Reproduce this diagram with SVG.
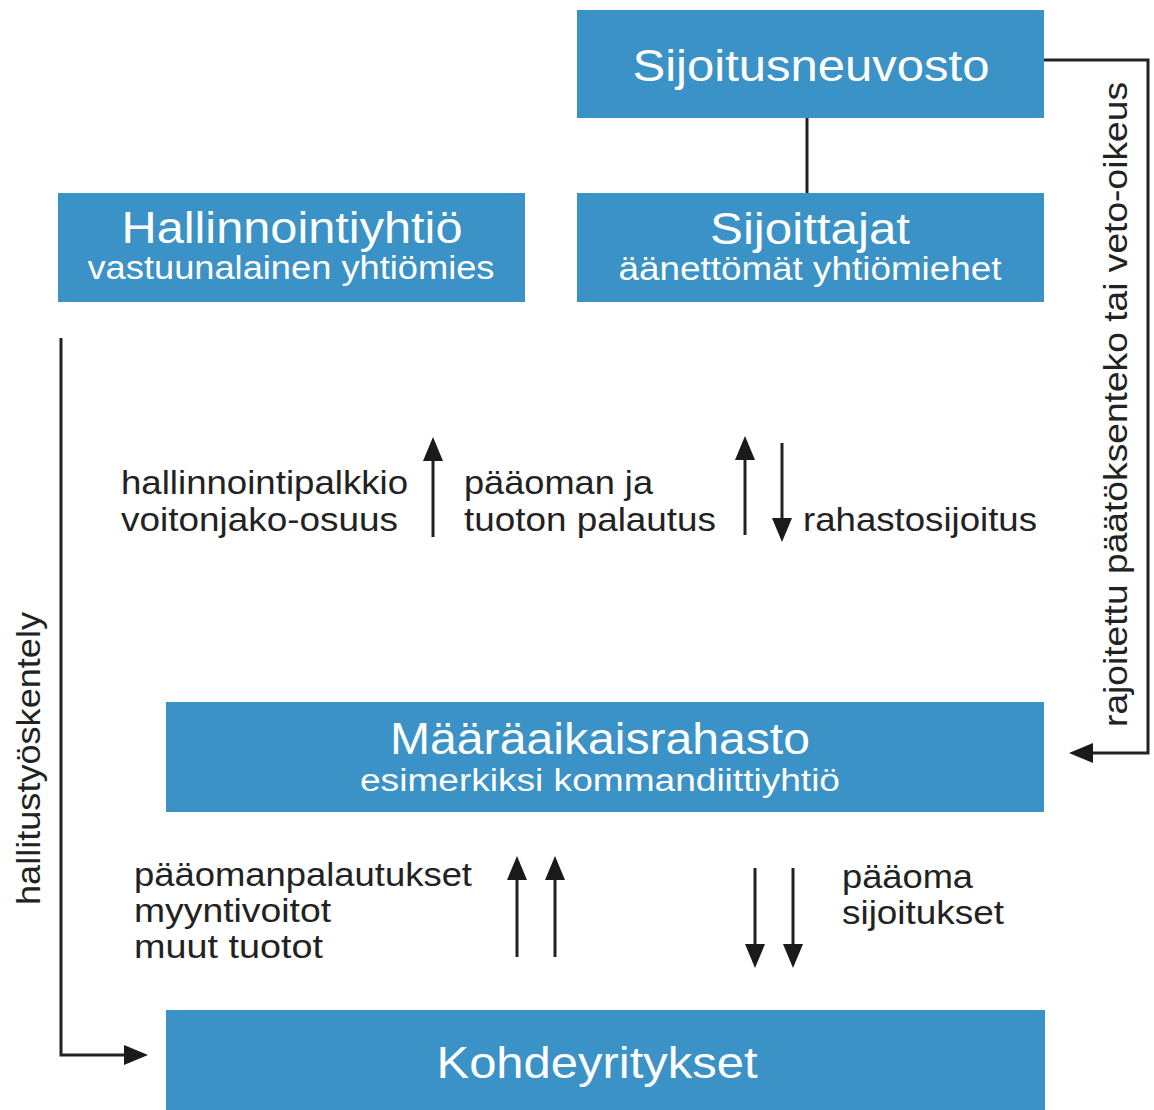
<svg xmlns="http://www.w3.org/2000/svg" width="1154" height="1110" viewBox="0 0 1154 1110">
<style>
.box{fill:#3b92c6}
.t{font-family:"Liberation Sans",Arial,sans-serif;fill:#fff;text-anchor:middle}
.title{font-size:45px}
.sub{font-size:33px}
.sub2{font-size:31px}
.lbl{font-family:"Liberation Sans",Arial,sans-serif;font-size:33px;fill:#222}
.c{fill:none;stroke:#222;stroke-width:3}
</style>
<defs>
<marker id="ah" markerUnits="userSpaceOnUse" markerWidth="24" markerHeight="20" refX="6" refY="10" orient="auto" viewBox="0 0 24 20">
<path d="M0,0 L24,10 L0,20 z" fill="#1a1a1a"/>
</marker>
</defs>
<rect width="1154" height="1110" fill="#fff"/>
<g id="connectors">
<path class="c" d="M807,118 V193"/>
<path class="c" d="M1043,60 H1148 V753 H1087" marker-end="url(#ah)"/>
<path class="c" d="M61,338 V1055 H130" marker-end="url(#ah)"/>
<path class="c" d="M433,537 V455" marker-end="url(#ah)"/>
<path class="c" d="M745,535 V454" marker-end="url(#ah)"/>
<path class="c" d="M782,443 V524" marker-end="url(#ah)"/>
<path class="c" d="M517,957 V874" marker-end="url(#ah)"/>
<path class="c" d="M555,957 V874" marker-end="url(#ah)"/>
<path class="c" d="M755,868 V950" marker-end="url(#ah)"/>
<path class="c" d="M793,868 V950" marker-end="url(#ah)"/>
</g>
<g id="sijoitusneuvosto">
<rect class="box" x="577" y="10" width="467" height="108"/>
<text class="t title" x="811" y="81" textLength="357" lengthAdjust="spacingAndGlyphs">Sijoitusneuvosto</text>
</g>
<g id="hallinnointiyhtio">
<rect class="box" x="58" y="193" width="467" height="109"/>
<text class="t title" x="292" y="243" textLength="341" lengthAdjust="spacingAndGlyphs">Hallinnointiyhtiö</text>
<text class="t sub" x="291" y="279" textLength="407" lengthAdjust="spacingAndGlyphs">vastuunalainen yhtiömies</text>
</g>
<g id="sijoittajat">
<rect class="box" x="577" y="193" width="467" height="109"/>
<text class="t title" x="810" y="244" textLength="200" lengthAdjust="spacingAndGlyphs">Sijoittajat</text>
<text class="t sub" x="810" y="280" textLength="383" lengthAdjust="spacingAndGlyphs">äänettömät yhtiömiehet</text>
</g>
<g id="maaraaikaisrahasto">
<rect class="box" x="166" y="702" width="878" height="110"/>
<text class="t title" x="600" y="754" textLength="420" lengthAdjust="spacingAndGlyphs">Määräaikaisrahasto</text>
<text class="t sub2" x="600" y="791" textLength="480" lengthAdjust="spacingAndGlyphs">esimerkiksi kommandiittiyhtiö</text>
</g>
<g id="kohdeyritykset">
<rect class="box" x="166" y="1010" width="879" height="100"/>
<text class="t title" x="597" y="1078" textLength="321" lengthAdjust="spacingAndGlyphs">Kohdeyritykset</text>
</g>
<g id="labels">
<text class="lbl" x="121" y="494" textLength="287" lengthAdjust="spacingAndGlyphs">hallinnointipalkkio</text>
<text class="lbl" x="121" y="531" textLength="277" lengthAdjust="spacingAndGlyphs">voitonjako-osuus</text>
<text class="lbl" x="464" y="494" textLength="189" lengthAdjust="spacingAndGlyphs">pääoman ja</text>
<text class="lbl" x="464" y="531" textLength="252" lengthAdjust="spacingAndGlyphs">tuoton palautus</text>
<text class="lbl" x="803" y="531" textLength="234" lengthAdjust="spacingAndGlyphs">rahastosijoitus</text>
<text class="lbl" x="134" y="886" textLength="338" lengthAdjust="spacingAndGlyphs">pääomanpalautukset</text>
<text class="lbl" x="134" y="922" textLength="197" lengthAdjust="spacingAndGlyphs">myyntivoitot</text>
<text class="lbl" x="134" y="958" textLength="189" lengthAdjust="spacingAndGlyphs">muut tuotot</text>
<text class="lbl" x="842" y="888" textLength="131" lengthAdjust="spacingAndGlyphs">pääoma</text>
<text class="lbl" x="842" y="924" textLength="162" lengthAdjust="spacingAndGlyphs">sijoitukset</text>
<text class="lbl" transform="translate(40,905) rotate(-90)" x="0" y="0" textLength="293" lengthAdjust="spacingAndGlyphs">hallitustyöskentely</text>
<text class="lbl" transform="translate(1127,727) rotate(-90)" x="0" y="0" textLength="645" lengthAdjust="spacingAndGlyphs">rajoitettu päätöksenteko tai veto-oikeus</text>
</g>
</svg>
